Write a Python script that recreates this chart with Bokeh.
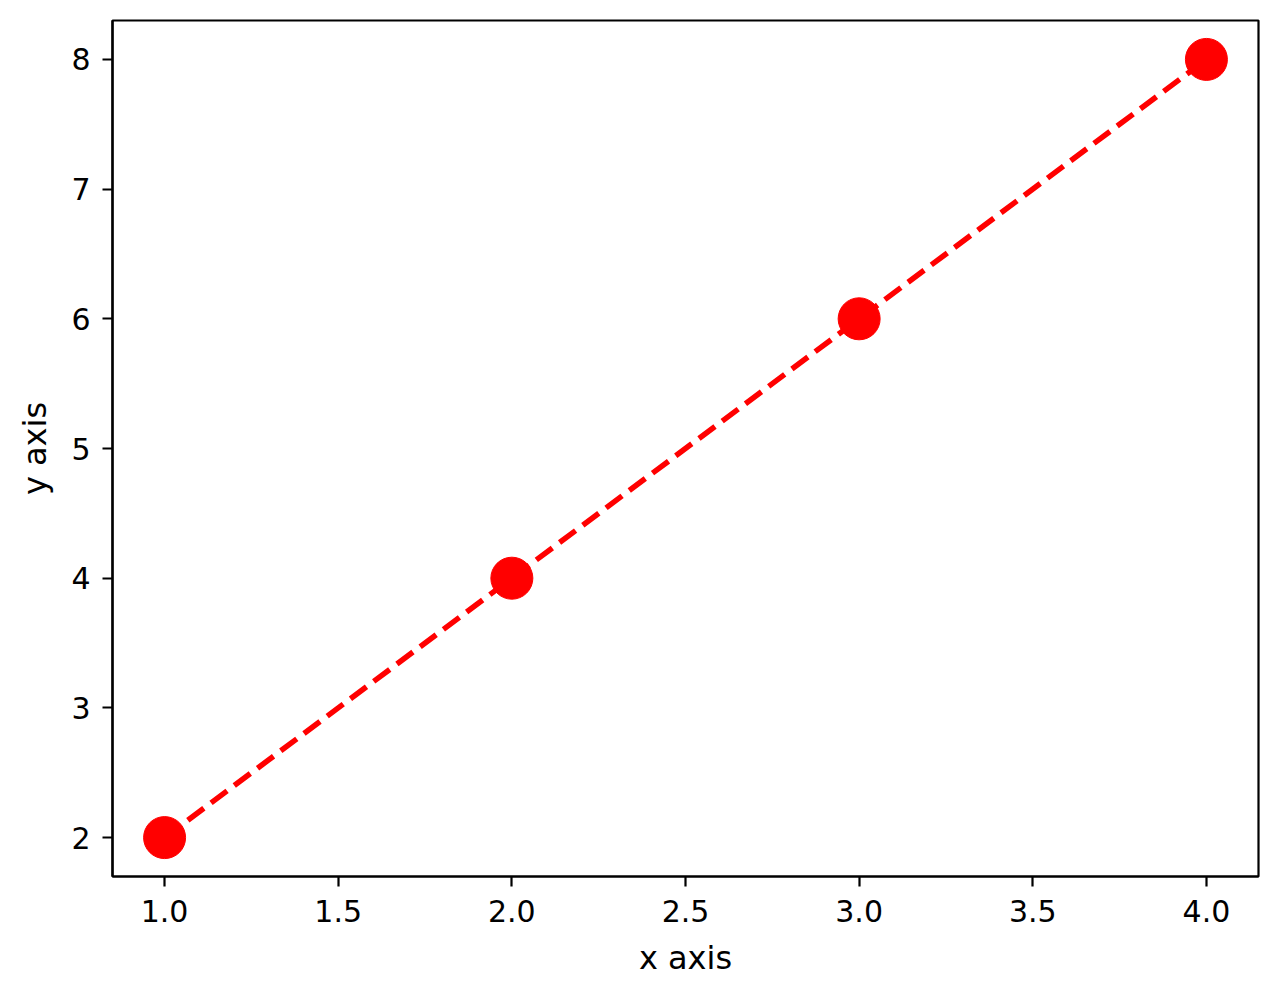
from bokeh.plotting import figure
from bokeh.models import FixedTicker, Range1d
from bokeh.embed import file_html
from bokeh.resources import INLINE

x_values = [1, 2, 3, 4]
y_values = [2, 4, 6, 8]
x_ticks = [1.0, 1.5, 2.0, 2.5, 3.0, 3.5, 4.0]
x_tick_labels = ["1.0", "1.5", "2.0", "2.5", "3.0", "3.5", "4.0"]
y_ticks = [2, 3, 4, 5, 6, 7, 8]
y_tick_labels = ["2", "3", "4", "5", "6", "7", "8"]
x_label = "x axis"
y_label = "y axis"

p = figure(width=1264, height=982, output_backend="svg", toolbar_location=None,
           x_range=Range1d(0.85, 4.15), y_range=Range1d(1.7, 8.3),
           min_border_left=112, min_border_right=6, min_border_top=20,
           min_border_bottom=106)
p.grid.visible = False
p.background_fill_color = "white"
p.border_fill_color = "white"
p.outline_line_color = "black"
p.outline_line_width = 2.2

p.line(x_values, y_values, line_color="red", line_width=5.5, line_dash="20 9")
p.scatter(x_values, y_values, size=42, fill_color="red", line_color="red")

p.xaxis.ticker = FixedTicker(ticks=x_ticks)
p.yaxis.ticker = FixedTicker(ticks=y_ticks)
p.xaxis.major_label_overrides = {t: l for t, l in zip(x_ticks, x_tick_labels)}
p.yaxis.major_label_overrides = {t: l for t, l in zip(y_ticks, y_tick_labels)}
p.xaxis.axis_label = x_label
p.yaxis.axis_label = y_label

for ax in (p.xaxis, p.yaxis):
    ax.axis_line_color = "black"
    ax.axis_line_width = 2.2
    ax.major_tick_line_color = "black"
    ax.major_tick_line_width = 2.2
    ax.major_tick_out = 10
    ax.major_tick_in = 0
    ax.minor_tick_line_color = None
    ax.major_label_text_font = "DejaVu Sans"
    ax.major_label_text_font_size = "30px"
    ax.major_label_text_color = "black"
    ax.axis_label_text_font = "DejaVu Sans"
    ax.axis_label_text_font_size = "32px"
    ax.axis_label_text_font_style = "normal"
    ax.axis_label_text_color = "black"

p.xaxis.major_label_standoff = 13
p.xaxis.axis_label_standoff = 14
p.yaxis.major_label_standoff = 12
p.yaxis.axis_label_standoff = 14

open("out.html", "w").write(file_html(p, INLINE))
